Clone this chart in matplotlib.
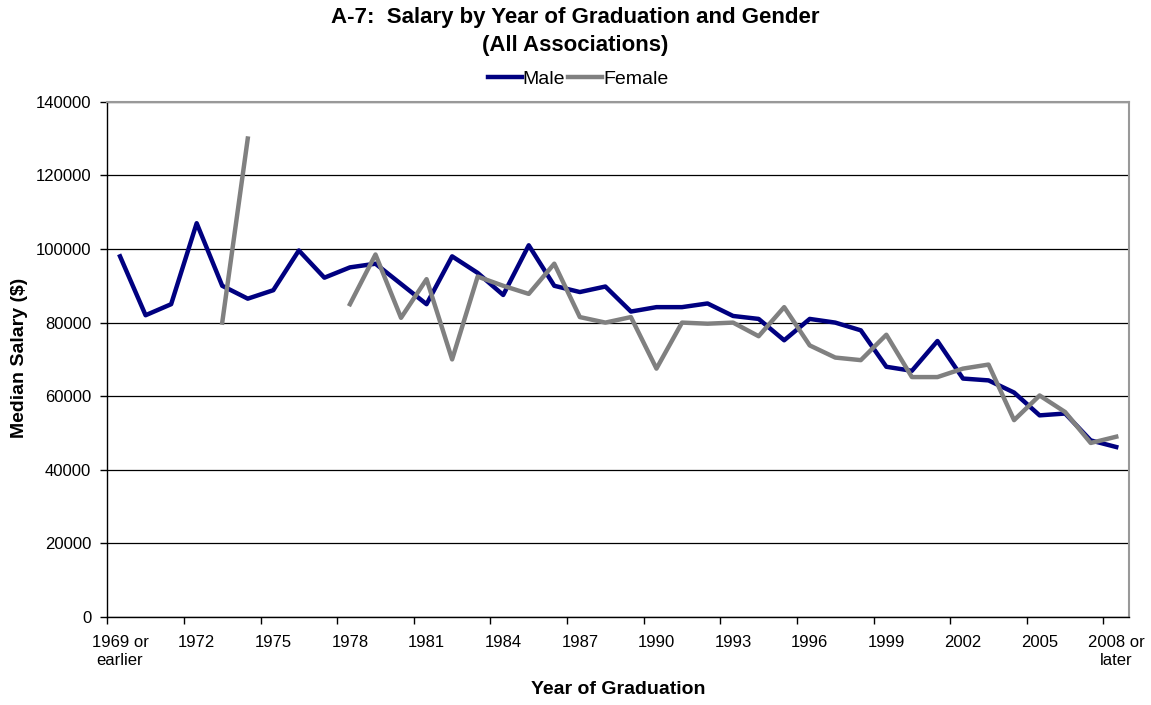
import numpy as np
import matplotlib
matplotlib.use("Agg")
import matplotlib.pyplot as plt

plt.rcParams['font.family'] = ['Liberation Sans', 'DejaVu Sans']

years = ["1969 or\nearlier"] + [str(y) for y in range(1970, 2008)] + ["2008 or\nlater"]

male = [98000, 82000, 85000, 107000, 90000, 86500, 88800, 99600, 92200, 95000,
        96000, 90500, 85000, 98000, 93500, 87500, 101000, 90000, 88300, 89800,
        83000, 84200, 84200, 85200, 81800, 81000, 75200, 81000, 80000, 77900,
        68000, 66900, 75000, 64800, 64300, 61000, 54800, 55300, 48000, 46200]

female = [np.nan, np.nan, np.nan, np.nan, 80000, 130000, np.nan, np.nan, np.nan, 85000,
          98500, 81300, 91800, 70000, 92500, 90000, 87800, 96000, 81500, 80000,
          81500, 67500, 80000, 79700, 80000, 76300, 84200, 73800, 70500, 69800,
          76700, 65200, 65200, 67500, 68600, 53500, 60200, 55700, 47300, 49000]

yticks = [0, 20000, 40000, 60000, 80000, 100000, 120000, 140000]

W, H = 1151, 705
fig = plt.figure(figsize=(W / 100, H / 100), dpi=100)
ax = fig.add_axes([0.0932, 0.1247, 0.8877, 0.7310])

x = np.arange(len(years))
ax.plot(x, male, color='#000080', lw=3.2, label='Male')
ax.plot(x, female, color='#808080', lw=3.2, label='Female')

ax.set_xlim(-0.5, len(years) - 0.5)
ax.set_ylim(0, 140000)
ax.set_yticks(yticks)
ax.set_yticklabels([str(v) for v in yticks], fontsize=12)
ax.yaxis.grid(True, color='black', lw=0.9)
ax.set_axisbelow(True)

# tick marks at category boundaries, labels at category centers
ax.set_xticks(np.arange(-0.5, len(years) - 0.5, 3))
ax.set_xticklabels([])
ax.set_xticks(np.arange(0, len(years), 3), minor=True)
ax.set_xticklabels([years[i] for i in range(0, len(years), 3)], minor=True, fontsize=12)
ax.tick_params(axis='x', which='minor', length=0, pad=13)
ax.tick_params(axis='x', which='major', length=5, direction='out', width=1)
ax.tick_params(axis='y', length=5, direction='out', width=1, pad=6.5)

for s in ['left', 'bottom']:
    ax.spines[s].set_color('black')
    ax.spines[s].set_linewidth(1)
for s in ['top', 'right']:
    ax.spines[s].set_color('#999999')
    ax.spines[s].set_linewidth(1.5)

fig.text(20 / W, 1 - 358 / H, 'Median Salary ($)', rotation=90, ha='center', va='center',
         fontsize=14, fontweight='bold')
fig.text(618 / W, 1 - 689 / H, 'Year of Graduation', ha='center', va='center',
         fontsize=14, fontweight='bold')

fig.text(0.5, 1 - 18 / H, 'A-7:  Salary by Year of Graduation and Gender',
         ha='center', va='center', fontsize=16, fontweight='bold')
fig.text(0.5, 1 - 46 / H, '(All Associations)',
         ha='center', va='center', fontsize=16, fontweight='bold')

leg = fig.legend(loc='center', bbox_to_anchor=(578 / W, 1 - 79 / H), ncol=2, frameon=False,
                 fontsize=14, handlelength=1.75, handletextpad=0.05, columnspacing=0.15,
                 borderpad=0, borderaxespad=0)

fig.savefig('out.png', dpi=100)
